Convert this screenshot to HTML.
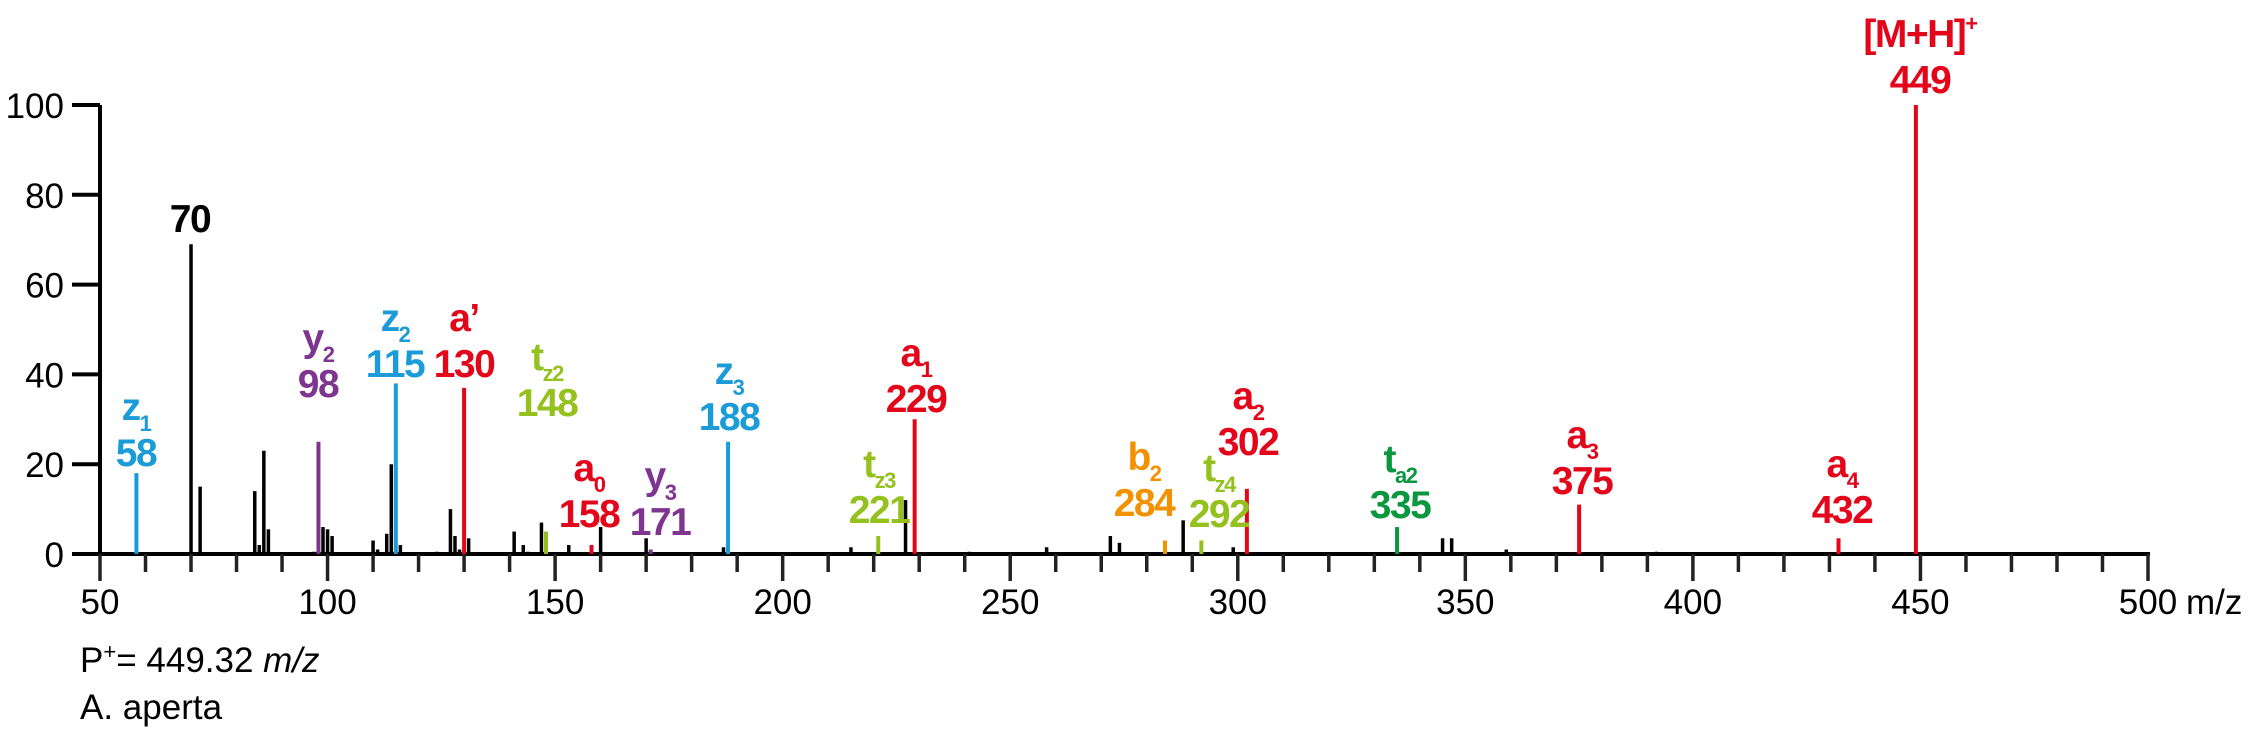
<!DOCTYPE html>
<html><head><meta charset="utf-8"><style>
html,body{margin:0;padding:0;background:#fff;}
svg{display:block;}
.tick{font-family:"Liberation Sans",sans-serif;font-size:35px;fill:#000;}
.lab{font-family:"Liberation Sans",sans-serif;font-size:39px;font-weight:bold;letter-spacing:-1.5px;}
</style></head><body>
<svg id="chart" width="2250" height="734" viewBox="0 0 2250 734" xmlns="http://www.w3.org/2000/svg">
<g id="axes"></g>
<g id="peaks"></g>
<g id="labels"></g>
<text class="tick" x="80" y="672">P<tspan font-size="22" dy="-13">+</tspan><tspan dy="13">= 449.32 </tspan><tspan font-style="italic">m/z</tspan></text>
<text class="tick" x="80" y="719">A. aperta</text>
</svg>
<script>
// data
const blackMz = [70,72,84,85,86,87,97,99,100,101,110,111,113,114,116,124,127,128,129,131,141,143,144,147,153,160,170,187,215,227,241,258,272,274,288,299,345,347,359,392];
const blackInt = [69,15,14,2,23,5.5,0.5,6,5.5,4,3,1,4.5,20,2,0.5,10,4,1,3.5,5,2,0.5,7,2,6,3.5,1.5,1.5,12,0.5,1.5,4,2.5,7.5,1.5,3.5,3.5,1,0.5];
const ionMz = [58,98,115,130,148,158,171,188,221,229,284,292,302,335,375,432,449];
const ionInt = [18,25,38,37,5,2,1,25,4,30,3,3,14.5,6,11,3.5,100];
const ionType = ["z","y","z","r","t","r","y","z","t","r","b","t","r","g","r","r","r"];
const xTicks = [50,100,150,200,250,300,350,400,450,500];
const yTicks = [0,20,40,60,80,100];
const colors = {z:"#1b9bd7",y:"#7d3590",r:"#e3061b",t:"#95c11f",b:"#f39200",g:"#0b9640",k:"#000"};

const X = v => 100 + (v-50)*(2048/450);
const Y = v => 554 - v*4.49;
const NS = "http://www.w3.org/2000/svg";
function mk(tag, attrs, parent){const e=document.createElementNS(NS,tag);for(const k in attrs)e.setAttribute(k,attrs[k]);parent.appendChild(e);return e;}

const axes=document.getElementById('axes');
const peaks=document.getElementById('peaks');
const labels=document.getElementById('labels');

let ya=mk('line',{x1:100,y1:Y(100),x2:100,y2:556,stroke:"#000","stroke-width":4},axes);


yTicks.forEach(t=>{
  let l=mk('line',{x1:72,x2:100,y1:Y(t),y2:Y(t),stroke:"#000","stroke-width":4},axes);
  
  
  let tx=mk('text',{x:64,y:Y(t)+13,"text-anchor":"end",class:"tick"},axes);
  tx.textContent=t;
  
  
});
let xa=mk('line',{x1:98,y1:554,x2:X(500)+2,y2:554,stroke:"#000","stroke-width":4},axes);


for(let v=50;v<=500;v+=10){
  const major=(v%50===0);
  let l=mk('line',{x1:X(v),x2:X(v),y1:554,y2:major?581:572,stroke:"#222","stroke-width":3.5},axes);
  
  
}
xTicks.forEach(t=>{
  let tx=mk('text',{x:X(t),y:614,"text-anchor":"middle",class:"tick"},axes);
  tx.textContent=t;
  
  
});
let unit=mk('text',{x:X(500)+38,y:614,class:"tick"},axes);
unit.textContent="m/z";



blackMz.forEach((m,i)=>{
  let l=mk('line',{x1:X(m),x2:X(m),y1:554,y2:Y(blackInt[i]),stroke:"#000","stroke-width":3.5},peaks);
  
  
});
ionMz.forEach((m,i)=>{
  let l=mk('line',{x1:X(m),x2:X(m),y1:554,y2:Y(ionInt[i]),stroke:colors[ionType[i]],"stroke-width":4},peaks);
  
  
});

// labels: [letter, subscript, number, color, cx, numBaseline]
const labelDefs=[
 ["z","1","58","z",136,466],
 ["","","70","k",190,232],
 ["y","2","98","y",318,397],
 ["z","2","115","z",395,377],
 ["a’","","130","r",464,377],
 ["t","z2","148","t",547,416],
 ["a","0","158","r",589,527],
 ["y","3","171","y",660,535],
 ["z","3","188","z",729,430],
 ["a","1","229","r",916,412],
 ["t","z3","221","t",879,523],
 ["b","2","284","b",1144,516],
 ["t","z4","292","t",1219,527],
 ["a","2","302","r",1248,455],
 ["t","a2","335","g",1400,518],
 ["a","3","375","r",1582,494],
 ["a","4","432","r",1842,523],
 ["[M+H]","+","449","r",1920,93]
];
labelDefs.forEach(d=>{
  const col=colors[d[3]];
  let n=mk('text',{x:d[4],y:d[5],"text-anchor":"middle",class:"lab",fill:col},labels);
  n.textContent=d[2];
  
  
  if(d[0]){
    let t=mk('text',{x:d[4],y:d[5]-46,"text-anchor":"middle",class:"lab",fill:col},labels);
    
    
    const a=document.createElementNS(NS,'tspan');a.textContent=d[0];t.appendChild(a);
    if(d[1]){
      const s=document.createElementNS(NS,'tspan');
      s.setAttribute('font-size','22');
      s.setAttribute('dy',d[1]==='+'?'-16':'11');
      s.textContent=d[1];t.appendChild(s);
    }
  }
});
</script>
</body></html>
